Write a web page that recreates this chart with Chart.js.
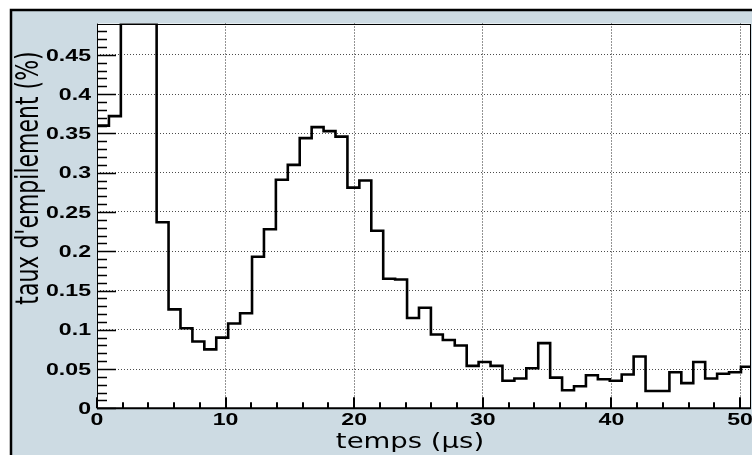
<!DOCTYPE html>
<html>
<head>
<meta charset="utf-8">
<script src="https://cdn.jsdelivr.net/npm/chart.js@4/dist/chart.umd.min.js"></script>
<style>
  html, body { margin: 0; padding: 0; background: #fff; }
  canvas { display: block; }
</style>
</head>
<body>
<canvas id="pileupChart" width="752" height="455"></canvas>
<script>
// pile-up rate per time bin (%), 55 bins between 0 and 51 µs
const rates = [
  0.360, 0.372, 0.49, 0.49, 0.49, 0.237, 0.126, 0.102, 0.085, 0.075,
  0.090, 0.108, 0.121, 0.193, 0.228, 0.291, 0.310, 0.344, 0.358, 0.353,
  0.346, 0.281, 0.290, 0.226, 0.165, 0.164, 0.115, 0.128, 0.094, 0.087,
  0.080, 0.054, 0.059, 0.054, 0.035, 0.038, 0.051, 0.083, 0.039, 0.023,
  0.028, 0.042, 0.037, 0.035, 0.043, 0.066, 0.022, 0.022, 0.046, 0.032,
  0.059, 0.038, 0.044, 0.046, 0.053
];
const histMin = 0;
const histMax = 51;

const xTicks = [0, 10, 20, 30, 40, 50];
const yTicks = [0, 0.05, 0.1, 0.15, 0.2, 0.25, 0.3, 0.35, 0.4, 0.45];
const xTitle = "temps (\u00b5s)";
const yTitle = "taux d'empilement (%)";

const binWidth = (histMax - histMin) / rates.length;

// step points: each bin starts at its low edge, last point closes the final bin
const points = rates.map((v, i) => ({ x: histMin + i * binWidth, y: v }));
points.push({ x: histMax, y: rates[rates.length - 1] });

const PAD_BG = "#cddbe3";
const STRETCH = 1.36;

function wideText(ctx, text, x, y, align, baseline, sx) {
  ctx.save();
  ctx.translate(x, y);
  ctx.scale(sx, 1);
  ctx.textAlign = align;
  ctx.textBaseline = baseline;
  ctx.fillText(text, 0, 0);
  ctx.restore();
}

const padPlugin = {
  id: "rootPad",
  beforeDraw(chart) {
    const { ctx, chartArea: a, width, height } = chart;
    ctx.save();
    ctx.fillStyle = "#fff";
    ctx.fillRect(0, 0, width, height);
    ctx.fillStyle = PAD_BG;
    ctx.fillRect(11, 10, width - 11, height - 10);
    // outer pad border
    ctx.strokeStyle = "#000";
    ctx.lineWidth = 2.5;
    ctx.beginPath();
    ctx.moveTo(11, height + 2);
    ctx.lineTo(11, 10);
    ctx.lineTo(width + 2, 10);
    ctx.stroke();
    ctx.fillStyle = "#fff";
    ctx.fillRect(a.left, a.top, a.right - a.left, a.bottom - a.top);
    ctx.restore();
  },
  afterDraw(chart) {
    const { ctx, chartArea: a } = chart;
    const xs = chart.scales.x;
    const ys = chart.scales.y;
    ctx.save();
    // frame
    ctx.strokeStyle = "#000";
    ctx.lineWidth = 1;
    ctx.strokeRect(Math.round(a.left) + 0.5, Math.round(a.top) + 0.5,
      Math.round(a.right - a.left) - 1, Math.round(a.bottom - a.top) - 1);
    ctx.lineWidth = 2;
    ctx.beginPath();
    ctx.moveTo(a.left, a.bottom);
    ctx.lineTo(a.right, a.bottom);
    ctx.stroke();

    // y ticks: minor every 0.01, major every 0.05
    ctx.lineWidth = 1.5;
    ctx.beginPath();
    for (let k = 0; k <= 48; k++) {
      const py = Math.round(ys.getPixelForValue(k / 100)) + 0.5;
      const len = k % 5 === 0 ? 19 : 10;
      ctx.moveTo(a.left, py);
      ctx.lineTo(a.left + len, py);
    }
    ctx.stroke();

    // x ticks: minor every 2, major every 10
    ctx.lineWidth = 2;
    ctx.beginPath();
    for (let t = 0; t <= 50; t += 2) {
      const px = Math.round(xs.getPixelForValue(t));
      const len = t % 10 === 0 ? 11 : 6;
      ctx.moveTo(px, a.bottom);
      ctx.lineTo(px, a.bottom - len);
    }
    ctx.stroke();

    // tick labels
    ctx.fillStyle = "#000";
    ctx.font = "bold 17px 'Liberation Sans', Arial, sans-serif";
    yTicks.forEach(v => {
      const label = String(Number(v.toFixed(2)));
      wideText(ctx, label, a.left - 6, ys.getPixelForValue(v) + 1, "right", "middle", STRETCH);
    });
    xTicks.forEach(v => {
      wideText(ctx, String(v), xs.getPixelForValue(v), a.bottom + 4, "center", "top", STRETCH);
    });

    // axis titles
    ctx.font = "22px 'DejaVu Sans', sans-serif";
    wideText(ctx, xTitle, 410, 448, "center", "alphabetic", 1.25);

    ctx.save();
    ctx.translate(38, 178);
    ctx.scale(1.42, 1);
    ctx.rotate(-Math.PI / 2);
    ctx.textAlign = "center";
    ctx.textBaseline = "alphabetic";
    ctx.fillText(yTitle, 0, 0);
    ctx.restore();

    ctx.restore();
  }
};

new Chart(document.getElementById("pileupChart"), {
  type: "line",
  data: {
    datasets: [{
      data: points,
      stepped: "before",
      borderColor: "#000",
      borderWidth: 2.6,
      pointRadius: 0,
      fill: false,
      tension: 0
    }]
  },
  options: {
    responsive: false,
    animation: false,
    devicePixelRatio: 1,
    layout: { padding: { left: 0, top: 23.5, right: 1.3, bottom: 0 } },
    plugins: { legend: { display: false }, tooltip: { enabled: false } },
    scales: {
      x: {
        type: "linear",
        min: 0,
        max: 50.83,
        afterBuildTicks: s => { s.ticks = xTicks.map(v => ({ value: v })); },
        afterFit: s => { s.height = 46.7; },
        ticks: { display: false },
        grid: { color: "rgba(0,0,0,0.85)", lineWidth: 1, drawTicks: false },
        border: { display: false, dash: [1, 2] }
      },
      y: {
        type: "linear",
        min: 0,
        max: 0.49,
        afterBuildTicks: s => { s.ticks = yTicks.map(v => ({ value: v })); },
        afterFit: s => { s.width = 97; },
        ticks: { display: false },
        grid: { color: "rgba(0,0,0,0.7)", lineWidth: 1, drawTicks: false },
        border: { display: false, dash: [1, 2] }
      }
    }
  },
  plugins: [padPlugin]
});
</script>
</body>
</html>
